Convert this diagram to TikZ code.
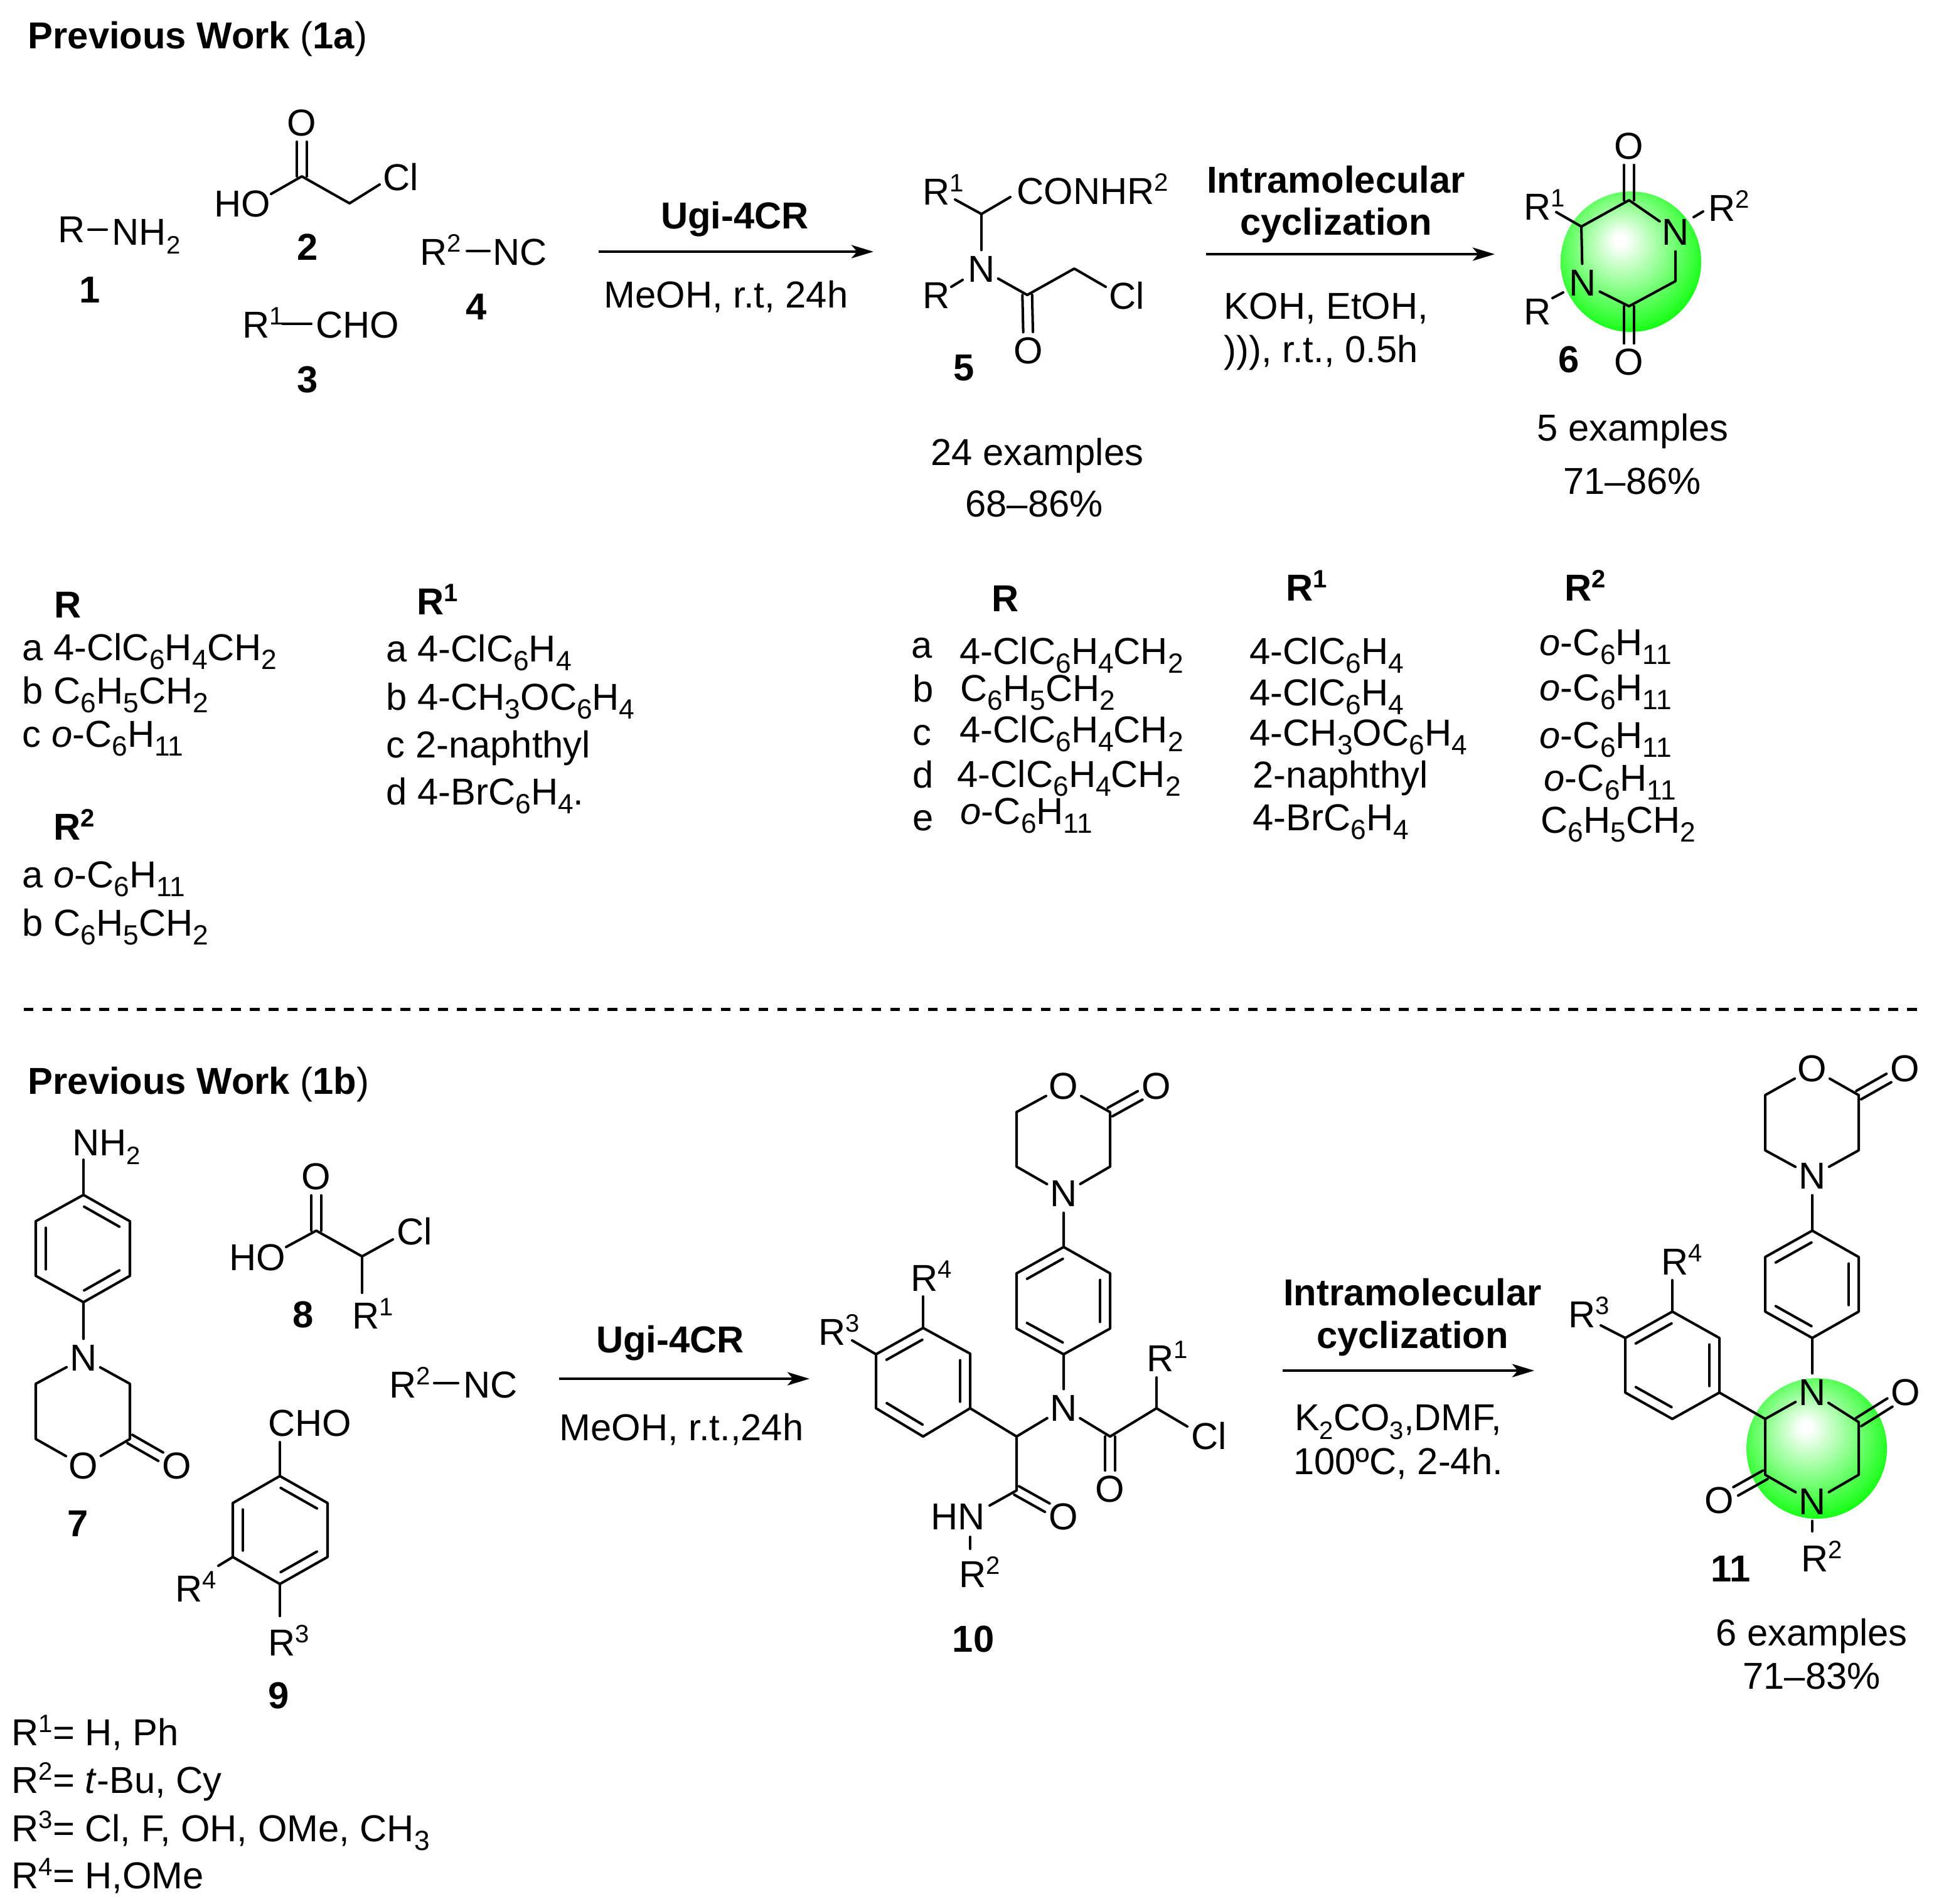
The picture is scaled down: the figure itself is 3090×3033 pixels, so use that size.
\documentclass[tikz,border=0pt]{standalone}
\usepackage{fontspec}
\setmainfont{Liberation Sans}
\usetikzlibrary{arrows.meta,calc}
\pgfdeclareradialshading{ballshade}{\pgfpoint{-4bp}{8bp}}{color(0bp)=(white); color(2bp)=(white); color(31bp)=(green); color(50bp)=(green)}
\newcommand{\up}[1]{\raisebox{.35em}{\fontsize{11.4}{12}\selectfont #1}}
\newcommand{\dn}[1]{\raisebox{-.24em}{\fontsize{11.4}{12}\selectfont #1}}
\newcommand{\dnt}[1]{\raisebox{-.24em}{\fontsize{12.6}{13}\selectfont #1}}
\newcommand{\innerbond}[2]{\draw[bond] ($(#1)!.12!(#2)!4.5pt!-90:(#2)$) -- ($(#2)!.12!(#1)!4.5pt!90:(#1)$);}
\newcommand{\twobond}[2]{%
  \draw[bond, shorten >=8.5pt] ($(#1)!2.2pt!90:(#2)$) -- ($(#2)!2.2pt!-90:(#1)$);
  \draw[bond, shorten >=8.5pt] ($(#1)!2.2pt!-90:(#2)$) -- ($(#2)!2.2pt!90:(#1)$);}
\tikzset{
  bond/.style={line width=1.15pt, line cap=round, line join=round},
  arrowline/.style={line width=1.15pt, -{Stealth[length=10pt,width=6pt,inset=2.5pt]}},
  atom/.style={circle, inner sep=0pt, minimum size=17pt},
  lbl/.style={anchor=base west, inner sep=0pt},
  ctr/.style={anchor=base, inner sep=0pt},
  num/.style={ctr, font=\fontsize{17}{20}\selectfont\bfseries},
  head/.style={lbl, font=\fontsize{17}{20}\selectfont\bfseries},
}
\begin{document}
\begin{tikzpicture}[x=0.1mm, y=-0.1mm, font=\fontsize{17}{20}\selectfont]
\useasboundingbox (0,0) rectangle (3090,3033);

% Green balls
\shade[shading=ballshade] (2599,417) circle (112);
\shade[shading=ballshade] (2895,2308) circle (112);

% Titles
\node[lbl] (title1a) at (44,77) {\textbf{Previous Work} (\textbf{1a})};
\node[lbl] (title1b) at (44,1743) {\textbf{Previous Work} (\textbf{1b})};
\coordinate (dashL) at (38,1608);
\coordinate (dashR) at (3061,1608);
\draw[line width=1.4pt, dash pattern=on 4.4pt off 4.14pt] (dashL) -- (dashR);

% Compound 1
\node[lbl] (r1a) at (92,386) {R};
\node[lbl] (nh1) at (178,390) {NH\dn{2}};
\coordinate (b1a) at (141,366);
\coordinate (b1b) at (170,366);
\draw[bond] (b1a) -- (b1b);
\node[num] (no1) at (143,482) {1};

% Compound 2
\coordinate (c2a) at (481,281);
\coordinate (c2b) at (557,324);
\coordinate (b2a) at (432,309);
\coordinate (b2b) at (605,294);
\node[atom] (o2) at (481,196) {O};
\node[lbl] (ho2) at (341,345) {HO};
\node[lbl] (cl2) at (610,303) {Cl};
\draw[bond] (b2a) -- (c2a) -- (c2b) -- (b2b);
\twobond{c2a}{o2}
\node[num] (no2) at (490,414) {2};

% Compound 3
\node[lbl] (r3a) at (386,538) {R\up{1}};
\coordinate (b3a) at (450,516);
\coordinate (b3b) at (496,516);
\draw[bond] (b3a) -- (b3b);
\node[lbl] (cho3) at (503,538) {CHO};
\node[num] (no3) at (490,625) {3};

% Compound 4
\node[lbl] (r4a) at (669,422) {R\up{2}};
\coordinate (b4a) at (744,400);
\coordinate (b4b) at (780,400);
\draw[bond] (b4a) -- (b4b);
\node[lbl] (nc4) at (785,422) {NC};
\node[num] (no4) at (759,509) {4};

% First arrow
\coordinate (arr1a) at (954,401);
\coordinate (arr1b) at (1392,401);
\draw[arrowline] (arr1a) -- (arr1b);
\node[num] (ugi1) at (1171,364) {Ugi-4CR};
\node[ctr] (cond1) at (1157,490) {MeOH, r.t, 24h};

% Compound 5
\coordinate (c5a) at (1564,341);
\coordinate (c5b) at (1637,470);
\coordinate (c5c) at (1712,428);
\coordinate (b5a) at (1522,318);
\coordinate (b5b) at (1610,314);
\coordinate (b5c) at (1762,457);
\coordinate (b5d) at (1516,457);
\coordinate (b5e) at (1534,446);
\node[lbl] (r5a) at (1470,326) {R\up{1}};
\node[lbl] (con5) at (1620,325) {CONHR\up{2}};
\node[atom] (n5) at (1564,429) {N};
\node[lbl] (r5b) at (1470,491) {R};
\node[lbl] (cl5) at (1767,492) {Cl};
\node[atom] (o5) at (1639,559) {O};
\draw[bond] (b5a) -- (c5a) -- (b5b);
\draw[bond] (c5a) -- (n5);
\draw[bond] (b5d) -- (b5e);
\draw[bond] (n5) -- (c5b) -- (c5c) -- (b5c);
\twobond{c5b}{o5}
\node[num] (no5) at (1536,606) {5};
\node[ctr] (ex5) at (1653,741) {24 examples};
\node[ctr] (yld5) at (1648,823) {68--86\%};

% Second arrow
\coordinate (arr2a) at (1922,405);
\coordinate (arr2b) at (2382,405);
\draw[arrowline] (arr2a) -- (arr2b);
\node[num] (intra2) at (2129,307) {Intramolecular};
\node[num] (cycl2) at (2129,374) {cyclization};
\node[lbl] (cond2a) at (1950,508) {KOH, EtOH,};
\node[lbl] (cond2b) at (1950,577) {))), r.t., 0.5h};

% Compound 6
\coordinate (c6a) at (2520,361);
\coordinate (c6b) at (2596,319);
\coordinate (c6c) at (2670,448);
\coordinate (c6d) at (2596,488);
\coordinate (b6a) at (2480,338);
\coordinate (b6b) at (2699,346);
\coordinate (b6c) at (2714,337);
\coordinate (b6d) at (2474,475);
\coordinate (b6e) at (2491,466);
\node[atom] (n6a) at (2670,370) {N};
\node[atom] (n6b) at (2522,451) {N};
\node[atom] (o6a) at (2596,233) {O};
\node[atom] (o6b) at (2596,577) {O};
\node[lbl] (r6a) at (2428,350) {R\up{1}};
\node[lbl] (r6b) at (2722,352) {R\up{2}};
\node[lbl] (r6c) at (2428,517) {R};
\draw[bond] (b6a) -- (c6a) -- (c6b) -- (n6a) -- (c6c) -- (c6d) -- (n6b) -- (c6a);
\draw[bond] (b6b) -- (b6c);
\draw[bond] (b6d) -- (b6e);
\twobond{c6b}{o6a}
\twobond{c6d}{o6b}
\node[num] (no6) at (2500,593) {6};
\node[ctr] (ex6) at (2602,702) {5 examples};
\node[ctr] (yld6) at (2601,787) {71--86\%};

% Left table
\node[head] (hr) at (86,984) {R};
\node[lbl] (ra) at (35,1052) {a 4-ClC\dnt{6}H\dnt{4}CH\dnt{2}};
\node[lbl] (rb) at (35,1121) {b C\dnt{6}H\dnt{5}CH\dnt{2}};
\node[lbl] (rc) at (35,1190) {c \textit{o}-C\dnt{6}H\dnt{11}};
\node[head] (hr2) at (85,1338) {R\up{2}};
\node[lbl] (r2a) at (35,1414) {a \textit{o}-C\dnt{6}H\dnt{11}};
\node[lbl] (r2b) at (35,1491) {b C\dnt{6}H\dnt{5}CH\dnt{2}};
\node[head] (hr1) at (664,979) {R\up{1}};
\node[lbl] (r1ta) at (615,1054) {a 4-ClC\dnt{6}H\dnt{4}};
\node[lbl] (r1tb) at (615,1131) {b 4-CH\dnt{3}OC\dnt{6}H\dnt{4}};
\node[lbl] (r1tc) at (615,1207) {c 2-naphthyl};
\node[lbl] (r1td) at (615,1282) {d 4-BrC\dnt{6}H\dnt{4}.};

% Right table
\node[head] (thr) at (1580,974) {R};
\node[lbl] (la) at (1452,1048) {a};
\node[lbl] (lb) at (1454,1118) {b};
\node[lbl] (lc) at (1454,1187) {c};
\node[lbl] (ld) at (1454,1255) {d};
\node[lbl] (le) at (1454,1323) {e};
\node[lbl] (tra) at (1529,1058) {4-ClC\dnt{6}H\dnt{4}CH\dnt{2}};
\node[lbl] (trb) at (1530,1117) {C\dnt{6}H\dnt{5}CH\dnt{2}};
\node[lbl] (trc) at (1529,1183) {4-ClC\dnt{6}H\dnt{4}CH\dnt{2}};
\node[lbl] (trd) at (1525,1254) {4-ClC\dnt{6}H\dnt{4}CH\dnt{2}};
\node[lbl] (tre) at (1530,1313) {\textit{o}-C\dnt{6}H\dnt{11}};
\node[head] (thr1) at (2049,957) {R\up{1}};
\node[lbl] (t1a) at (1991,1058) {4-ClC\dnt{6}H\dnt{4}};
\node[lbl] (t1b) at (1991,1124) {4-ClC\dnt{6}H\dnt{4}};
\node[lbl] (t1c) at (1991,1188) {4-CH\dnt{3}OC\dnt{6}H\dnt{4}};
\node[lbl] (t1d) at (1996,1255) {2-naphthyl};
\node[lbl] (t1e) at (1996,1323) {4-BrC\dnt{6}H\dnt{4}};
\node[head] (thr2) at (2493,957) {R\up{2}};
\node[lbl] (t2a) at (2453,1044) {\textit{o}-C\dnt{6}H\dnt{11}};
\node[lbl] (t2b) at (2453,1116) {\textit{o}-C\dnt{6}H\dnt{11}};
\node[lbl] (t2c) at (2453,1192) {\textit{o}-C\dnt{6}H\dnt{11}};
\node[lbl] (t2d) at (2460,1260) {\textit{o}-C\dnt{6}H\dnt{11}};
\node[lbl] (t2e) at (2455,1327) {C\dnt{6}H\dnt{5}CH\dnt{2}};

% Compound 7
\coordinate (a7a) at (133,1904);
\coordinate (a7b) at (207,1946);
\coordinate (a7c) at (207,2033);
\coordinate (a7d) at (133,2075);
\coordinate (a7e) at (57,2033);
\coordinate (a7f) at (57,1946);
\coordinate (m7a) at (207,2205);
\coordinate (m7b) at (207,2293);
\coordinate (m7c) at (57,2293);
\coordinate (m7d) at (57,2205);
\coordinate (b7a) at (133,1848);
\node[lbl] (nh7) at (115,1841) {NH\dn{2}};
\node[atom] (n7) at (133,2164) {N};
\node[atom] (o7a) at (133,2336) {O};
\node[atom] (o7b) at (282,2336) {O};
\draw[bond] (a7a) -- (a7b) -- (a7c) -- (a7d) -- (a7e) -- (a7f) -- cycle;
\draw[bond] (b7a) -- (a7a);
\innerbond{a7a}{a7b}
\innerbond{a7c}{a7d}
\innerbond{a7e}{a7f}
\draw[bond] (a7d) -- (n7) -- (m7a) -- (m7b) -- (o7a) -- (m7c) -- (m7d) -- (n7);
\twobond{m7b}{o7b}
\node[num] (no7) at (124,2448) {7};

% Compound 8
\coordinate (c8a) at (504,1961);
\coordinate (c8b) at (577,2002);
\coordinate (b8a) at (456,1987);
\coordinate (b8b) at (626,1975);
\coordinate (b8c) at (577,2060);
\node[atom] (o8) at (504,1875) {O};
\node[lbl] (ho8) at (365,2024) {HO};
\node[lbl] (cl8) at (632,1983) {Cl};
\node[lbl] (r8) at (561,2117) {R\up{1}};
\draw[bond] (b8a) -- (c8a) -- (c8b) -- (b8b);
\draw[bond] (c8b) -- (b8c);
\twobond{c8a}{o8}
\node[num] (no8) at (483,2115) {8};

% Isocyanide
\node[lbl] (r2n) at (620,2227) {R\up{2}};
\coordinate (b2na) at (692,2204);
\coordinate (b2nb) at (730,2204);
\draw[bond] (b2na) -- (b2nb);
\node[lbl] (nc2n) at (738,2227) {NC};

% Compound 9
\coordinate (a9a) at (446,2352);
\coordinate (a9b) at (522,2395);
\coordinate (a9c) at (522,2481);
\coordinate (a9d) at (446,2524);
\coordinate (a9e) at (371,2481);
\coordinate (a9f) at (371,2395);
\coordinate (b9a) at (446,2298);
\coordinate (b9b) at (348,2495);
\coordinate (b9c) at (446,2575);
\node[lbl] (cho9) at (427,2288) {CHO};
\node[lbl] (r9a) at (279,2552) {R\up{4}};
\node[lbl] (r9b) at (427,2638) {R\up{3}};
\draw[bond] (a9a) -- (a9b) -- (a9c) -- (a9d) -- (a9e) -- (a9f) -- cycle;
\draw[bond] (b9a) -- (a9a);
\draw[bond] (a9e) -- (b9b);
\draw[bond] (a9d) -- (b9c);
\innerbond{a9a}{a9b}
\innerbond{a9c}{a9d}
\innerbond{a9e}{a9f}
\node[num] (no9) at (444,2722) {9};

% Third arrow
\coordinate (arr3a) at (891,2197);
\coordinate (arr3b) at (1290,2197);
\draw[arrowline] (arr3a) -- (arr3b);
\node[num] (ugi3) at (1068,2155) {Ugi-4CR};
\node[ctr] (cond3) at (1086,2295) {MeOH, r.t.,24h};

% Compound 10
\coordinate (m10a) at (1769,1772);
\coordinate (m10b) at (1769,1859);
\coordinate (m10c) at (1620,1859);
\coordinate (m10d) at (1620,1772);
\coordinate (a10a) at (1695,1987);
\coordinate (a10b) at (1769,2029);
\coordinate (a10c) at (1769,2117);
\coordinate (a10d) at (1695,2158);
\coordinate (a10e) at (1620,2117);
\coordinate (a10f) at (1620,2029);
\coordinate (c10a) at (1769,2289);
\coordinate (c10b) at (1843,2244);
\coordinate (c10c) at (1620,2289);
\coordinate (c10d) at (1620,2375);
\coordinate (p10a) at (1546,2244);
\coordinate (p10b) at (1546,2157);
\coordinate (p10c) at (1471,2116);
\coordinate (p10d) at (1396,2158);
\coordinate (p10e) at (1396,2244);
\coordinate (p10f) at (1471,2289);
\coordinate (b10a) at (1843,2195);
\coordinate (b10b) at (1892,2273);
\coordinate (b10c) at (1471,2066);
\coordinate (b10d) at (1358,2136);
\coordinate (b10e) at (1577,2399);
\coordinate (b10f) at (1546,2449);
\coordinate (b10g) at (1546,2468);
\node[atom] (o10a) at (1695,1731) {O};
\node[atom] (o10b) at (1843,1731) {O};
\node[atom] (n10a) at (1695,1902) {N};
\node[atom] (n10b) at (1695,2244) {N};
\node[atom] (o10c) at (1769,2373) {O};
\node[atom] (o10d) at (1695,2417) {O};
\node[lbl] (r10a) at (1827,2185) {R\up{1}};
\node[lbl] (cl10) at (1898,2309) {Cl};
\node[lbl] (r10b) at (1451,2057) {R\up{4}};
\node[lbl] (r10c) at (1304,2143) {R\up{3}};
\node[lbl] (hn10) at (1483,2437) {HN};
\node[lbl] (r10d) at (1528,2529) {R\up{2}};
\draw[bond] (o10a) -- (m10a) -- (m10b) -- (n10a) -- (m10c) -- (m10d) -- (o10a);
\twobond{m10a}{o10b}
\draw[bond] (n10a) -- (a10a) -- (a10b) -- (a10c) -- (a10d) -- (a10e) -- (a10f) -- (a10a);
\innerbond{a10b}{a10c}
\innerbond{a10d}{a10e}
\innerbond{a10f}{a10a}
\draw[bond] (a10d) -- (n10b) -- (c10a) -- (c10b) -- (b10b);
\draw[bond] (c10b) -- (b10a);
\twobond{c10a}{o10c}
\draw[bond] (n10b) -- (c10c) -- (c10d) -- (b10e);
\twobond{c10d}{o10d}
\draw[bond] (b10f) -- (b10g);
\draw[bond] (c10c) -- (p10a) -- (p10b) -- (p10c) -- (p10d) -- (p10e) -- (p10f) -- (p10a);
\innerbond{p10b}{p10a}
\innerbond{p10d}{p10c}
\innerbond{p10f}{p10e}
\draw[bond] (p10c) -- (b10c);
\draw[bond] (p10d) -- (b10d);
\node[num] (no10) at (1551,2632) {10};

% Fourth arrow
\coordinate (arr4a) at (2044,2184);
\coordinate (arr4b) at (2445,2184);
\draw[arrowline] (arr4a) -- (arr4b);
\node[num] (intra4) at (2251,2080) {Intramolecular};
\node[num] (cycl4) at (2251,2148) {cyclization};
\node[ctr] (cond4a) at (2228,2279) {K\dn{2}CO\dn{3},DMF,};
\node[ctr] (cond4b) at (2228,2349) {100ºC, 2-4h.};

% Compound 11
\coordinate (m11a) at (2962,1745);
\coordinate (m11b) at (2962,1833);
\coordinate (m11c) at (2813,1833);
\coordinate (m11d) at (2813,1745);
\coordinate (a11a) at (2888,1961);
\coordinate (a11b) at (2962,2003);
\coordinate (a11c) at (2962,2090);
\coordinate (a11d) at (2888,2132);
\coordinate (a11e) at (2813,2090);
\coordinate (a11f) at (2813,2003);
\coordinate (c11a) at (2962,2266);
\coordinate (c11b) at (2962,2350);
\coordinate (c11c) at (2813,2350);
\coordinate (c11d) at (2813,2261);
\coordinate (p11a) at (2740,2219);
\coordinate (p11b) at (2740,2132);
\coordinate (p11c) at (2665,2090);
\coordinate (p11d) at (2590,2132);
\coordinate (p11e) at (2590,2219);
\coordinate (p11f) at (2665,2261);
\coordinate (b11a) at (2665,2040);
\coordinate (b11b) at (2551,2112);
\coordinate (b11c) at (2888,2440);
\node[atom] (o11a) at (2888,1703) {O};
\node[atom] (o11b) at (3036,1703) {O};
\node[atom] (n11a) at (2888,1874) {N};
\node[atom] (n11b) at (2888,2219) {N};
\node[atom] (n11c) at (2888,2393) {N};
\node[atom] (o11c) at (3037,2219) {O};
\node[atom] (o11d) at (2740,2391) {O};
\node[lbl] (r11a) at (2647,2031) {R\up{4}};
\node[lbl] (r11b) at (2499,2115) {R\up{3}};
\node[lbl] (r11c) at (2870,2504) {R\up{2}};
\draw[bond] (o11a) -- (m11a) -- (m11b) -- (n11a) -- (m11c) -- (m11d) -- (o11a);
\twobond{m11a}{o11b}
\draw[bond] (n11a) -- (a11a) -- (a11b) -- (a11c) -- (a11d) -- (a11e) -- (a11f) -- (a11a);
\innerbond{a11b}{a11c}
\innerbond{a11d}{a11e}
\innerbond{a11f}{a11a}
\draw[bond] (a11d) -- (n11b) -- (c11a) -- (c11b) -- (n11c) -- (c11c) -- (c11d) -- (n11b);
\twobond{c11a}{o11c}
\twobond{c11c}{o11d}
\draw[bond] (n11c) -- (b11c);
\draw[bond] (c11d) -- (p11a) -- (p11b) -- (p11c) -- (p11d) -- (p11e) -- (p11f) -- (p11a);
\innerbond{p11b}{p11a}
\innerbond{p11d}{p11c}
\innerbond{p11f}{p11e}
\draw[bond] (p11c) -- (b11a);
\draw[bond] (p11d) -- (b11b);
\node[num] (no11) at (2758,2520) {11};
\node[ctr] (ex11) at (2887,2622) {6 examples};
\node[ctr] (yld11) at (2887,2691) {71--83\%};

% Definitions
\node[lbl] (def1) at (18,2781) {R\up{1}= H, Ph};
\node[lbl] (def2) at (18,2857) {R\up{2}= \textit{t}-Bu, Cy};
\node[lbl] (def3) at (18,2934) {R\up{3}= Cl, F, OH, OMe, CH\dnt{3}};
\node[lbl] (def4) at (18,3009) {R\up{4}= H,OMe};
\end{tikzpicture}
\end{document}
